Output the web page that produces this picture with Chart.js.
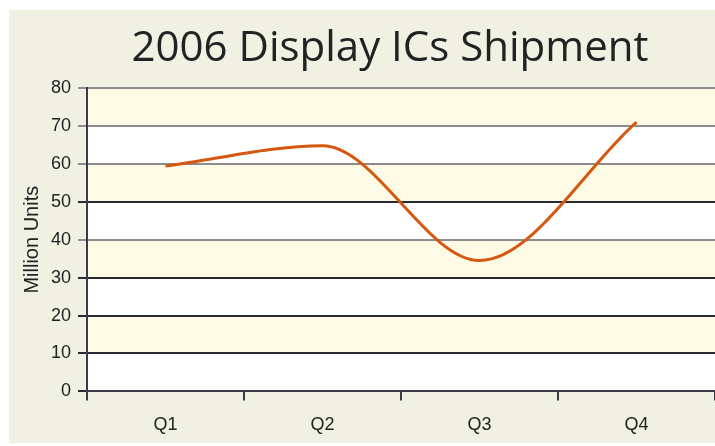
<!DOCTYPE html>
<html>
<head>
<meta charset="utf-8">
<script src="https://cdn.jsdelivr.net/npm/chart.js@4"></script>
<style>
  html, body { margin: 0; padding: 0; background: #ffffff; }
  #wrap { position: absolute; left: 9px; top: 10px; width: 706px; height: 433px; background: #f0f0e3; }
  #title { position: absolute; left: 0; top: 24px; width: 780px; text-align: center;
           font-family: 'Open Sans'; font-size: 42px; line-height: 42px; color: #222222; white-space: nowrap; }
</style>
</head>
<body>
<div id="wrap"><canvas id="mycanvas" width="706" height="433"></canvas></div>
<div id="title"></div>
<script>
var quarters = ['Q1', 'Q2', 'Q3', 'Q4'];
var shipments = [59.4, 64.8, 34.5, 71];
var chartTitle = '2006 Display ICs Shipment';
var yLabel = 'Million Units';

document.getElementById('title').textContent = chartTitle;

// alternating yellow / white bands between the y grid lines
var bands = {
    id: 'bands',
    beforeDraw: function(chart) {
        var ctx = chart.ctx;
        var a = chart.chartArea;
        var y = chart.scales.y;
        ctx.save();
        for (var v = 0; v < 80; v += 10) {
            var top = y.getPixelForValue(v + 10);
            var bot = y.getPixelForValue(v);
            ctx.fillStyle = (v / 10) % 2 == 0 ? '#ffffff' : '#fdfbe5';
            ctx.fillRect(a.left, top, a.right - a.left, bot - top);
        }
        ctx.restore();
    }
};

var ctx = document.getElementById('mycanvas');
var LineGraph = new Chart(ctx, {
    type: 'line',
    data: {
        labels: quarters,
        datasets: [{
            label: 'Shipment',
            data: shipments,
            fill: false,
            borderColor: '#d45810',
            borderWidth: 3,
            cubicInterpolationMode: 'monotone',
            pointRadius: 0
        }]
    },
    options: {
        responsive: false,
        animation: false,
        layout: { padding: { left: 8, right: 0, top: 78, bottom: -7 } },
        plugins: {
            legend: { display: false },
            tooltip: { enabled: false },
            title: { display: false }
        },
        scales: {
            x: {
                offset: true,
                grid: {
                    offset: true,
                    drawOnChartArea: false,
                    drawTicks: true,
                    tickLength: 9,
                    color: '#3a3a48',
                    lineWidth: 2
                },
                border: { color: '#3a3a48', width: 2 },
                ticks: {
                    color: '#222222',
                    font: { family: 'Liberation Sans', size: 18 },
                    padding: 14
                }
            },
            y: {
                min: 0,
                max: 80,
                grid: {
                    color: function(c) {
                        var v = c.tick ? c.tick.value : 0;
                        return (v == 80 || v == 70 || v == 60 || v == 40) ? '#8c8c8c' : '#2a2a34';
                    },
                    lineWidth: 2,
                    tickLength: 9
                },
                border: { color: '#3a3a48', width: 2 },
                ticks: {
                    stepSize: 10,
                    color: '#222222',
                    font: { family: 'Liberation Sans', size: 18 },
                    padding: 7
                },
                title: {
                    display: true,
                    text: yLabel,
                    color: '#222222',
                    font: { family: 'Liberation Sans', size: 20 },
                    padding: { top: 3, bottom: 0 }
                }
            }
        }
    },
    plugins: [bands]
});
</script>
</body>
</html>
